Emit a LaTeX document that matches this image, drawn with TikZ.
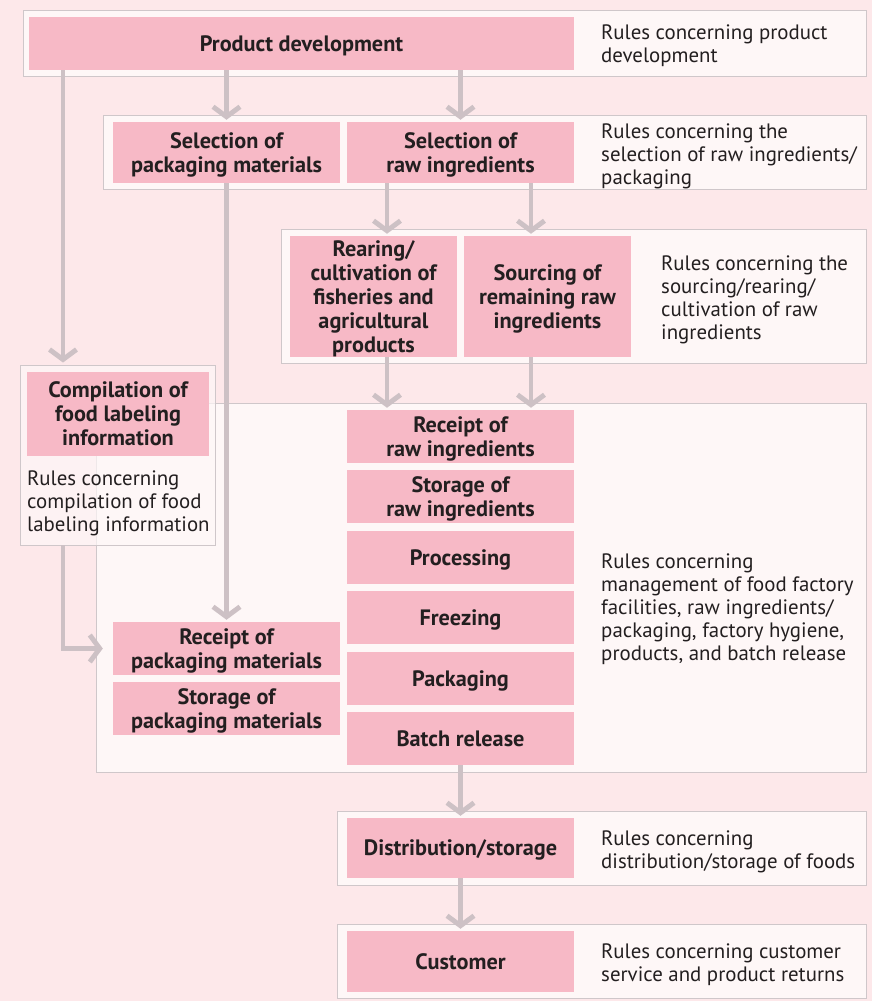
\documentclass[tikz,border=0pt]{standalone}
\usepackage{fontspec}
\setmainfont{PT Sans}
\usetikzlibrary{arrows.meta,positioning}
\definecolor{PageBg}{HTML}{FDE8EA}
\definecolor{PanelBg}{HTML}{FEF7F7}
\definecolor{PanelLine}{HTML}{CFC7CA}
\definecolor{PinkBox}{HTML}{F7B9C6}
\definecolor{ArrGray}{HTML}{CDC1C5}
\definecolor{Ink}{HTML}{231F20}
\tikzset{wh/.style n args={2}{minimum width=#1*0.03cm, minimum height=#2*0.03cm}}

\begin{document}
\begin{tikzpicture}[
  x=0.03cm, y=-0.03cm,
  stepbox/.style={rectangle, fill=PinkBox, inner sep=0pt, align=center,
                  text=Ink, font=\bfseries\fontsize{19}{20.5}\selectfont,
                  text depth=-6pt},
  rule/.style={anchor=west, align=left, inner sep=0pt, text=Ink,
               font=\fontsize{17.8}{19.6}\selectfont},
  panel/.style={draw=PanelLine, fill=PanelBg, line width=0.8pt},
  arr/.style={draw=ArrGray, line width=4.2pt, shorten >=1.7pt,
              -{Straight Barb[length=8.5pt, width=23pt]}}
]
\fill[PageBg] (0,0) rectangle (872,1001);

% panels
\draw[panel] (23,10) rectangle (866,76);
\draw[panel] (103,115) rectangle (866,189);
\draw[panel] (281,229) rectangle (866,363);
\draw[panel] (96,403) rectangle (866,772);
\node[panel, wh={195}{180}, fill opacity=0.7] (pcomp) at (117.5,455) {};
\draw[panel] (337,811) rectangle (866,885);
\draw[panel] (337,924) rectangle (866,998);

% steps
\node[stepbox, wh={545}{53}] (pd) at (301.5,43.5) {Product development};
\node[stepbox, wh={227}{61}] (selpk) at (226.5,152.5) {Selection of\\packaging materials};
\node[stepbox, wh={227}{61}] (selraw) at (460.5,152.5) {Selection of\\raw ingredients};
\node[stepbox, wh={167}{121}] (rear) at (373.5,296.5) {Rearing/\\cultivation of\\fisheries and\\agricultural\\products};
\node[stepbox, wh={167}{121}] (sourc) at (547.5,296.5) {Sourcing of\\remaining raw\\ingredients};
\node[stepbox, wh={182}{84}] (comp) at (118,414) {Compilation of\\food labeling\\information};
\node[stepbox, wh={227}{53}] (rcraw) at (460.5,436.5) {Receipt of\\raw ingredients};
\node[stepbox, wh={227}{53}] (straw) at (460.5,496.5) {Storage of\\raw ingredients};
\node[stepbox, wh={227}{53}] (proc) at (460.5,557.5) {Processing};
\node[stepbox, wh={227}{53}] (freez) at (460.5,617.5) {Freezing};
\node[stepbox, wh={227}{53}] (pack) at (460.5,678.5) {Packaging};
\node[stepbox, wh={227}{53}] (batch) at (460.5,738.5) {Batch release};
\node[stepbox, wh={227}{53}] (rcpk) at (226.5,648.5) {Receipt of\\packaging materials};
\node[stepbox, wh={227}{53}] (stpk) at (226.5,708.5) {Storage of\\packaging materials};
\node[stepbox, wh={227}{60}] (dist) at (460.5,848) {Distribution/storage};
\node[stepbox, wh={227}{61}] (cust) at (460.5,961.5) {Customer};

% rules
\node[rule] (r1) at (601,46) {Rules concerning product\\development};
\node[rule] (r2) at (601,156) {Rules concerning the\\selection of raw ingredients/\\packaging};
\node[rule] (r3) at (661,299.5) {Rules concerning the\\sourcing/rearing/\\cultivation of raw\\ingredients};
\node[rule] (r4) at (27,503) {Rules concerning\\compilation of food\\labeling information};
\node[rule] (r5) at (601,609) {Rules concerning\\management of food factory\\facilities, raw ingredients/\\packaging, factory hygiene,\\products, and batch release};
\node[rule] (r6) at (601,852) {Rules concerning\\distribution/storage of foods};
\node[rule] (r7) at (601,965) {Rules concerning customer\\service and product returns};

% arrows
\coordinate (lx) at (63,0);
\coordinate (ax) at (387,0);
\coordinate (bx) at (531,0);
\draw[arr] (pd.south -| lx) -- (pcomp.north -| lx);
\draw[arr, shorten >=8.5pt] (pcomp.south -| lx) |- (rcpk.west);
\draw[arr] (pd.south -| selpk.north) -- (selpk.north);
\draw[arr] (pd.south -| selraw.north) -- (selraw.north);
\draw[arr] (selraw.south -| ax) -- (rear.north -| ax);
\draw[arr] (selraw.south -| bx) -- (sourc.north -| bx);
\draw[arr] (rear.south -| ax) -- (rcraw.north -| ax);
\draw[arr] (sourc.south -| bx) -- (rcraw.north -| bx);
\draw[arr] (selpk.south) -- (rcpk.north);
\draw[arr] (batch.south) -- (dist.north);
\draw[arr] (dist.south) -- (cust.north);
\end{tikzpicture}
\end{document}
